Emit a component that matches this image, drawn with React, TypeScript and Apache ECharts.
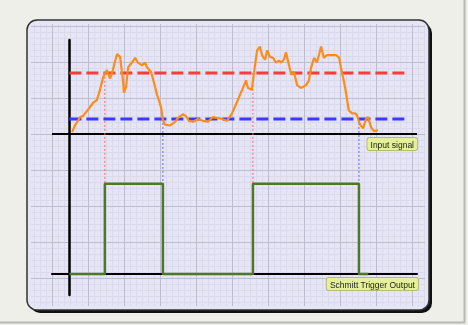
import React, { useEffect, useRef } from "react";
import * as echarts from "echarts";

// time axis (arbitrary units), y-axis sits at t = 0
const SIGNAL_T = [0.8, 1.6, 3.1, 3.9, 5.4, 6.8, 7.9, 8.8, 9.7, 10.5, 10.8, 11.7, 12.5, 13.7, 14.6, 15.4, 15.7, 16.3, 16.9, 18.0, 18.9, 19.7, 20.9, 21.8, 22.3, 23.5, 24.3, 25.2, 26.4, 26.9, 27.5, 28.9, 30.4, 31.5, 32.7, 33.5, 34.4, 35.6, 37.0, 38.4, 39.9, 41.3, 42.5, 43.9, 45.3, 46.8, 48.2, 49.7, 50.8, 51.4, 52.5, 53.1, 54.0, 54.8, 55.4, 56.3, 56.9, 57.7, 58.6, 59.4, 60.3, 60.9, 61.7, 62.3, 63.2, 63.8, 64.6, 65.5, 66.6, 68.1, 68.9, 69.5, 70.4, 71.2, 71.8, 72.4, 73.2, 74.1, 75.3, 76.7, 77.6, 78.1, 79.3, 79.9, 80.4, 81.3, 82.2, 82.7, 83.6, 84.5, 85.3, 85.9, 86.8, 87.6, 88.8];
const SIGNAL_V = [0.2, 0.9, 1.8, 1.9, 2.6, 3.3, 3.6, 4.7, 6.0, 6.6, 6.8, 5.9, 6.8, 8.5, 8.2, 5.7, 4.4, 5.0, 7.1, 7.6, 8.1, 7.6, 7.3, 7.6, 7.1, 6.6, 5.5, 4.2, 2.8, 1.5, 1.0, 0.9, 1.3, 1.8, 2.1, 1.9, 1.4, 1.3, 1.6, 1.4, 1.3, 1.8, 1.7, 1.6, 1.4, 2.2, 3.4, 4.7, 5.7, 4.9, 4.7, 6.5, 8.9, 9.3, 8.4, 7.9, 8.9, 8.2, 8.1, 7.6, 7.8, 7.6, 7.9, 8.7, 7.3, 6.3, 6.6, 5.2, 4.9, 5.2, 5.7, 7.0, 8.1, 7.6, 8.4, 9.3, 8.1, 8.4, 8.4, 8.4, 8.1, 7.1, 5.0, 3.6, 2.5, 2.2, 2.2, 2.0, 1.0, 0.6, 1.6, 1.8, 0.7, 0.3, 0.4];

const UPPER_THRESHOLD = 6.5;
const LOWER_THRESHOLD = 1.6;
const INPUT_BASE = 14.9; // where the input signal's zero sits on the shared axis

const OUTPUT_T = [0, 10.2, 10.2, 26.9, 26.9, 52.8, 52.8, 83.3, 83.3, 86];
const OUTPUT_STATE = [0, 0, 1, 1, 0, 0, 1, 1, 0, 0];
const OUTPUT_LOW = 0;
const OUTPUT_HIGH = 9.6;

const RISE_T = [10.2, 52.8];
const FALL_T = [26.9, 83.3];

const X_MIN = -5;
const X_MAX = 100;
const THRESH_END = 97;
const Y_MIN = -2.23;
const Y_MAX = 24.9;

export default function App() {
  const ref = useRef<HTMLDivElement>(null);
  useEffect(() => {
    if (!ref.current) return;
    const chart = echarts.init(ref.current, undefined, { renderer: "svg" });

    const graphics: any[] = [];
    // outer frame
    graphics.push({ type: "rect", z: -20, shape: { x: 0, y: 0, width: 468, height: 325 }, style: { fill: "#efefea" } });
    graphics.push({ type: "line", z: -19, shape: { x1: 464.5, y1: 0, x2: 464.5, y2: 323 }, style: { stroke: "#b8b8b4", lineWidth: 2 } });
    graphics.push({ type: "line", z: -19, shape: { x1: 0, y1: 322.5, x2: 465, y2: 322.5 }, style: { stroke: "#b8b8b4", lineWidth: 2 } });
    graphics.push({ type: "rect", z: -18, shape: { x: 30, y: 23, width: 402, height: 290, r: 10 }, style: { fill: "#111" } });
    graphics.push({ type: "rect", z: -17, shape: { x: 27, y: 20, width: 402, height: 290, r: 10 }, style: { fill: "#e5e5f6", stroke: "#333", lineWidth: 1.5 } });
    // graph paper
    for (let x = 34; x <= 424; x += 6) {
      const major = (x - 52) % 36 === 0;
      graphics.push({ type: "line", z: major ? -15 : -16, shape: { x1: x + 0.5, y1: 24, x2: x + 0.5, y2: 306 }, style: { stroke: major ? "#bdbdd0" : "#dadaec", lineWidth: 1 } });
    }
    for (let y = 26; y <= 304; y += 6) {
      const major = (y - 26) % 36 === 0;
      graphics.push({ type: "line", z: major ? -15 : -16, shape: { x1: 31, y1: y + 0.5, x2: 425, y2: y + 0.5 }, style: { stroke: major ? "#bdbdd0" : "#dadaec", lineWidth: 1 } });
    }
    const labelStyle = {
      fill: "#222",
      font: "8.5px 'Liberation Sans', Arial, sans-serif",
      backgroundColor: "#e6f09c",
      borderColor: "#b4bc78",
      borderWidth: 1,
      borderRadius: 2,
      padding: [2, 3, 1, 3],
      textAlign: "right",
      textVerticalAlign: "top",
    };
    graphics.push({ type: "text", z: 100, x: 417, y: 138, style: { ...labelStyle, text: "Input signal" } });
    graphics.push({ type: "text", z: 100, x: 418, y: 278, style: { ...labelStyle, text: "Schmitt Trigger Output" } });

    const thresholdSeries = (v: number, color: string) => ({
      type: "line",
      data: [[0, INPUT_BASE + v], [THRESH_END, INPUT_BASE + v]],
      symbol: "none",
      z: 3,
      lineStyle: { color, width: 3, type: [12, 5] },
    });
    const dottedSeries = (t: number, v: number, color: string) => ({
      type: "line",
      data: [[t, INPUT_BASE + v], [t, OUTPUT_LOW]],
      symbol: "none",
      z: 2,
      lineStyle: { color, width: 1, type: [2, 2] },
    });

    chart.setOption({
      animation: false,
      graphic: graphics,
      grid: { left: 52, right: 51, top: 40, bottom: 30 },
      xAxis: {
        type: "value",
        min: X_MIN,
        max: X_MAX,
        axisLine: { show: true, onZero: true, lineStyle: { color: "#000", width: 2 } },
        axisTick: { show: false },
        axisLabel: { show: false },
        splitLine: { show: false },
      },
      yAxis: {
        type: "value",
        min: Y_MIN,
        max: Y_MAX,
        axisLine: { show: true, onZero: true, lineStyle: { color: "#000", width: 2.5 } },
        axisTick: { show: false },
        axisLabel: { show: false },
        splitLine: { show: false },
      },
      series: [
        {
          type: "line",
          data: [[X_MIN, INPUT_BASE], [X_MAX, INPUT_BASE]],
          symbol: "none",
          z: 2,
          lineStyle: { color: "#000", width: 1.8 },
        },
        ...RISE_T.map((t) => dottedSeries(t, UPPER_THRESHOLD, "#f06a6a")),
        ...FALL_T.map((t) => dottedSeries(t, LOWER_THRESHOLD, "#6a6af0")),
        thresholdSeries(UPPER_THRESHOLD, "#ff3a3a"),
        thresholdSeries(LOWER_THRESHOLD, "#3a3aff"),
        {
          type: "line",
          data: SIGNAL_T.map((t, i) => [t, INPUT_BASE + SIGNAL_V[i]]),
          symbol: "none",
          z: 4,
          lineStyle: { color: "#ff8c1a", width: 2.2 },
        },
        {
          type: "line",
          data: OUTPUT_T.map((t, i) => [t, OUTPUT_STATE[i] ? OUTPUT_HIGH : OUTPUT_LOW]),
          symbol: "none",
          z: 4,
          lineStyle: { color: "#4b7a22", width: 2.5 },
        },
      ],
    });
    return () => chart.dispose();
  }, []);
  return <div ref={ref} style={{ position: "fixed", left: 0, top: 0, width: 468, height: 325 }} />;
}
